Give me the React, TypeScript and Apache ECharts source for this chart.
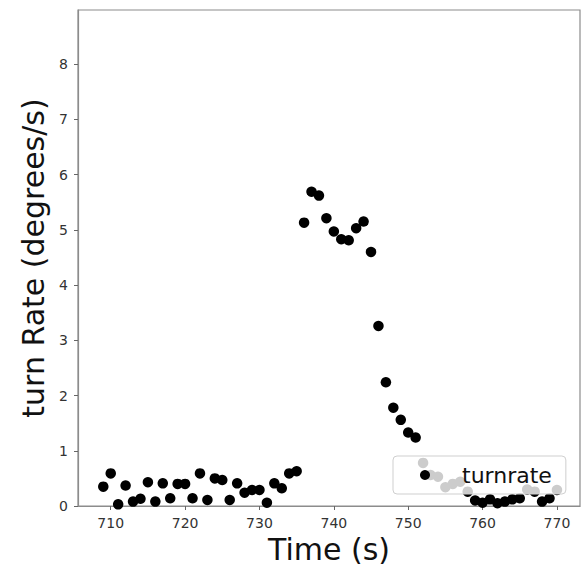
import React, { useEffect, useRef } from 'react';
import * as echarts from 'echarts';

const seriesName = 'turnrate';
const xAxisTitle = 'Time (s)';
const yAxisTitle = 'turn Rate (degrees/s)';

const times = [
  709, 710, 711, 712, 713, 714, 715, 716, 717, 718, 719, 720, 721, 722, 723, 724,
  725, 726, 727, 728, 729, 730, 731, 732, 733, 734, 735, 736, 737, 738, 739, 740,
  741, 742, 743, 744, 745, 746, 747, 748, 749, 750, 751, 752, 753, 754, 755, 756,
  757, 758, 759, 760, 761, 762, 763, 764, 765, 766, 767, 768, 769, 770,
];

const turnRates = [
  0.35, 0.59, 0.03, 0.37, 0.08, 0.13, 0.43, 0.08, 0.41, 0.14, 0.4, 0.4, 0.14, 0.59, 0.11, 0.5,
  0.47, 0.11, 0.41, 0.24, 0.29, 0.29, 0.06, 0.41, 0.32, 0.59, 0.63, 5.13, 5.69, 5.62, 5.21, 4.97,
  4.83, 4.81, 5.03, 5.15, 4.6, 3.26, 2.24, 1.78, 1.56, 1.33, 1.24, 0.78, 0.56, 0.53, 0.34, 0.4,
  0.44, 0.26, 0.1, 0.06, 0.12, 0.05, 0.08, 0.12, 0.14, 0.3, 0.26, 0.08, 0.14, 0.29,
];

const xTickValues = [710, 720, 730, 740, 750, 760, 770];
const yTickValues = [0, 1, 2, 3, 4, 5, 6, 7, 8];

export default function App() {
  const ref = useRef<HTMLDivElement>(null);

  useEffect(() => {
    if (!ref.current) return;
    const chart = echarts.init(ref.current, null, { renderer: 'svg' });
    const spine = '#8c8c8c';
    chart.setOption({
      animation: false,
      backgroundColor: '#ffffff',
      textStyle: { fontFamily: 'DejaVu Sans' },
      grid: {
        left: 78,
        top: 10,
        width: 502,
        height: 496,
        show: true,
        borderColor: spine,
        borderWidth: 1.2,
        backgroundColor: 'transparent',
      },
      xAxis: {
        type: 'value',
        min: 705.6,
        max: 773.1,
        splitLine: { show: false },
        axisLine: { show: true, onZero: false, lineStyle: { color: spine, width: 1.2 } },
        axisTick: { show: true, length: 4, customValues: xTickValues, lineStyle: { color: '#666' } },
        axisLabel: { customValues: xTickValues, fontSize: 14, color: '#333', margin: 10 },
        name: xAxisTitle,
        nameLocation: 'middle',
        nameGap: 25,
        nameTextStyle: { fontSize: 30, color: '#111' },
      },
      yAxis: {
        type: 'value',
        min: 0,
        max: 8.98,
        splitLine: { show: false },
        axisLine: { show: true, onZero: false, lineStyle: { color: spine, width: 1.2 } },
        axisTick: { show: true, length: 4, customValues: yTickValues, lineStyle: { color: '#666' } },
        axisLabel: { customValues: yTickValues, fontSize: 14, color: '#333', margin: 10 },
        name: yAxisTitle,
        nameLocation: 'middle',
        nameGap: 30,
        nameTextStyle: { fontSize: 30, color: '#111' },
      },
      legend: {
        show: true,
        left: 393,
        top: 456,
        padding: [8, 14, 8, 27],
        icon: 'circle',
        itemWidth: 10,
        itemHeight: 10,
        itemStyle: { opacity: 1 },
        backgroundColor: 'rgba(255,255,255,0.8)',
        borderColor: '#cfcfcf',
        borderWidth: 1,
        borderRadius: 4,
        textStyle: { fontSize: 22, color: '#111', padding: [0, 0, 0, 27] },
        data: [seriesName],
      },
      series: [
        {
          type: 'scatter',
          name: seriesName,
          data: times.map((t, i) => [t, turnRates[i]]),
          symbolSize: 10.5,
          itemStyle: { color: '#000000', opacity: 1 },
        },
      ],
    });
    return () => chart.dispose();
  }, []);

  return (
    <div
      ref={ref}
      style={{ position: 'absolute', left: 0, top: 0, width: 584, height: 570, background: '#fff' }}
    />
  );
}
